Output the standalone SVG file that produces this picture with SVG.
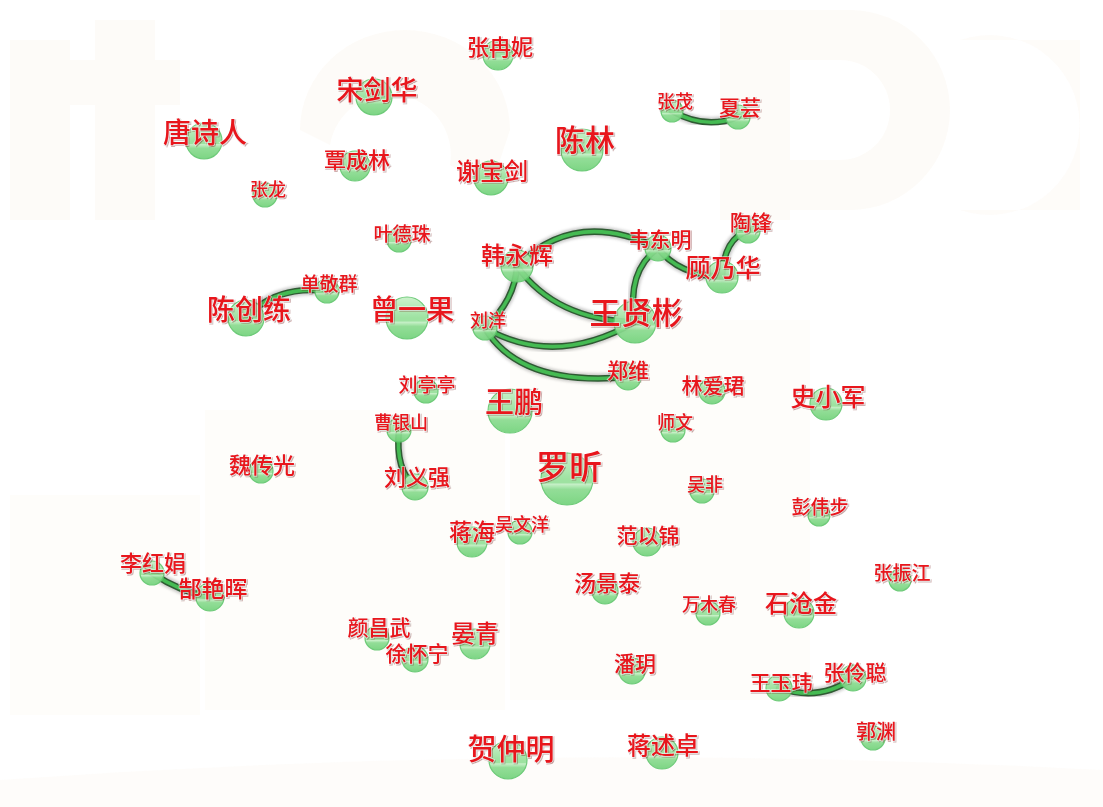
<svg xmlns="http://www.w3.org/2000/svg" width="1103" height="807" viewBox="0 0 1103 807">
<defs>
<linearGradient id="ball" x1="0" y1="0" x2="0" y2="1">
<stop offset="0" stop-color="#c9f1c9"/>
<stop offset="0.5" stop-color="#96e09a"/>
<stop offset="0.57" stop-color="#96e09a"/>
<stop offset="0.6" stop-color="#c2efc3"/>
<stop offset="0.7" stop-color="#8adb8f"/>
<stop offset="1" stop-color="#72d27a"/>
</linearGradient>
<filter id="ts" x="-10%" y="-20%" width="120%" height="140%">
<feDropShadow dx="1" dy="1" stdDeviation="0.7" flood-color="#600" flood-opacity="0.45"/>
</filter>
<filter id="es" x="-20%" y="-20%" width="140%" height="140%">
<feGaussianBlur stdDeviation="1.6"/>
</filter>
</defs>
<style>
.bg{fill:#fcf8f2}
.n circle{fill:url(#ball);stroke:#62c66e;stroke-width:1.2;opacity:0.92}
.n text{font-family:"Noto Sans CJK SC","Liberation Sans",sans-serif;font-weight:500;fill:#e8141c;text-anchor:middle;filter:url(#ts);stroke:#fff;stroke-width:1.5;stroke-opacity:0.6;paint-order:stroke}
.e path{fill:none;stroke-linecap:round}
.e .sh{stroke:#666;stroke-width:10;opacity:0.35;filter:url(#es)}
.e .bd{stroke:#2f5a33;stroke-width:6.5}
.e .in{stroke:#45bb53;stroke-width:3.6}
</style>
<rect width="1103" height="807" fill="#ffffff"/>
<g id="watermark" opacity="0.55">
<rect class="bg" x="10" y="40" width="60" height="180"/>
<rect class="bg" x="95" y="20" width="60" height="200"/>
<rect class="bg" x="70" y="60" width="110" height="45"/>
<path class="bg" d="M300,130 a105,100 0 1 1 210,0 l-20,60 l-40,-25 a55,55 0 1 0 -120,-20 z"/>
<rect class="bg" x="720" y="10" width="70" height="210"/>
<path class="bg" d="M790,10 h60 a100,100 0 0 1 0,200 h-60 v-50 h50 a50,50 0 0 0 0,-100 h-50 z"/>
<path class="bg" d="M960,40 a90,90 0 1 1 0,170 h120 v-170 z" opacity="0.8"/>
<rect class="bg" x="205" y="410" width="300" height="300" opacity="0.6"/>
<rect class="bg" x="510" y="320" width="300" height="380" opacity="0.6"/>
<rect class="bg" x="10" y="495" width="190" height="220" opacity="0.6"/>
<path class="bg" d="M0,780 Q550,740 1103,770 V807 H0 z" opacity="0.7"/>
</g>
<g id="edges" class="e">
<g><path class="sh" d="M672,111 Q705,130 738,117"/><path class="bd" d="M672,111 Q705,130 738,117"/><path class="in" d="M672,111 Q705,130 738,117"/></g>
<g><path class="sh" d="M517,266 Q575,208 658,248"/><path class="bd" d="M517,266 Q575,208 658,248"/><path class="in" d="M517,266 Q575,208 658,248"/></g>
<g><path class="sh" d="M517,266 Q515,300 485,328"/><path class="bd" d="M517,266 Q515,300 485,328"/><path class="in" d="M517,266 Q515,300 485,328"/></g>
<g><path class="sh" d="M517,266 Q555,320 635,322"/><path class="bd" d="M517,266 Q555,320 635,322"/><path class="in" d="M517,266 Q555,320 635,322"/></g>
<g><path class="sh" d="M485,328 Q555,368 635,322"/><path class="bd" d="M485,328 Q555,368 635,322"/><path class="in" d="M485,328 Q555,368 635,322"/></g>
<g><path class="sh" d="M485,328 Q520,387 628,377"/><path class="bd" d="M485,328 Q520,387 628,377"/><path class="in" d="M485,328 Q520,387 628,377"/></g>
<g><path class="sh" d="M658,248 Q626,272 635,322"/><path class="bd" d="M658,248 Q626,272 635,322"/><path class="in" d="M658,248 Q626,272 635,322"/></g>
<g><path class="sh" d="M658,248 Q678,275 722,277"/><path class="bd" d="M658,248 Q678,275 722,277"/><path class="in" d="M658,248 Q678,275 722,277"/></g>
<g><path class="sh" d="M722,277 Q724,238 748,231"/><path class="bd" d="M722,277 Q724,238 748,231"/><path class="in" d="M722,277 Q724,238 748,231"/></g>
<g><path class="sh" d="M246,318 Q275,285 327,291"/><path class="bd" d="M246,318 Q275,285 327,291"/><path class="in" d="M246,318 Q275,285 327,291"/></g>
<g><path class="sh" d="M399,430 Q395,470 415,487"/><path class="bd" d="M399,430 Q395,470 415,487"/><path class="in" d="M399,430 Q395,470 415,487"/></g>
<g><path class="sh" d="M152,573 Q180,592 210,597"/><path class="bd" d="M152,573 Q180,592 210,597"/><path class="in" d="M152,573 Q180,592 210,597"/></g>
<g><path class="sh" d="M779,688 Q820,702 853,678"/><path class="bd" d="M779,688 Q820,702 853,678"/><path class="in" d="M779,688 Q820,702 853,678"/></g>
</g>
<g id="n-zrn" class="n"><circle cx="498" cy="55" r="15"/><text x="500" y="55" font-size="22">张冉妮</text></g>
<g id="n-sjh" class="n"><circle cx="374" cy="97" r="18"/><text x="377" y="100" font-size="27">宋剑华</text></g>
<g id="n-tsr" class="n"><circle cx="204" cy="141" r="18"/><text x="205" y="143" font-size="28">唐诗人</text></g>
<g id="n-tcl" class="n"><circle cx="355" cy="166" r="15"/><text x="357" y="168" font-size="22">覃成林</text></g>
<g id="n-zl" class="n"><circle cx="265" cy="195" r="12"/><text x="268" y="196" font-size="18">张龙</text></g>
<g id="n-xbj" class="n"><circle cx="491" cy="178" r="17"/><text x="492" y="180" font-size="24">谢宝剑</text></g>
<g id="n-cl" class="n"><circle cx="582" cy="150" r="21"/><text x="585" y="151" font-size="30">陈林</text></g>
<g id="n-zm" class="n"><circle cx="672" cy="111" r="11"/><text x="675" y="108" font-size="18">张茂</text></g>
<g id="n-xy" class="n"><circle cx="738" cy="117" r="12"/><text x="740" y="115" font-size="21">夏芸</text></g>
<g id="n-ydz" class="n"><circle cx="399" cy="240" r="12"/><text x="402" y="241" font-size="19">叶德珠</text></g>
<g id="n-hyh" class="n"><circle cx="517" cy="266" r="16"/><text x="517" y="264" font-size="24">韩永辉</text></g>
<g id="n-wdm" class="n"><circle cx="658" cy="248" r="13"/><text x="660" y="247" font-size="21">韦东明</text></g>
<g id="n-tf" class="n"><circle cx="748" cy="231" r="12"/><text x="751" y="230" font-size="21">陶锋</text></g>
<g id="n-gnh" class="n"><circle cx="722" cy="277" r="16"/><text x="723" y="277" font-size="25">顾乃华</text></g>
<g id="n-sjq" class="n"><circle cx="327" cy="291" r="12"/><text x="329" y="291" font-size="19">单敬群</text></g>
<g id="n-ccl" class="n"><circle cx="246" cy="318" r="18"/><text x="249" y="320" font-size="28">陈创练</text></g>
<g id="n-zyg" class="n"><circle cx="407" cy="318" r="21"/><text x="412" y="320" font-size="28">曾一果</text></g>
<g id="n-ly" class="n"><circle cx="485" cy="328" r="12"/><text x="488" y="327" font-size="18">刘洋</text></g>
<g id="n-wxb" class="n"><circle cx="635" cy="322" r="21"/><text x="636" y="324" font-size="31">王贤彬</text></g>
<g id="n-zw" class="n"><circle cx="628" cy="377" r="13"/><text x="628" y="378" font-size="21">郑维</text></g>
<g id="n-ltt" class="n"><circle cx="426" cy="391" r="12"/><text x="427" y="392" font-size="19">刘亭亭</text></g>
<g id="n-laj" class="n"><circle cx="712" cy="391" r="13"/><text x="713" y="393" font-size="21">林爱珺</text></g>
<g id="n-sxj" class="n"><circle cx="826" cy="404" r="16"/><text x="828" y="406" font-size="25">史小军</text></g>
<g id="n-wp" class="n"><circle cx="510" cy="411" r="22"/><text x="514" y="413" font-size="29">王鹏</text></g>
<g id="n-cys" class="n"><circle cx="399" cy="430" r="12"/><text x="401" y="429" font-size="18">曹银山</text></g>
<g id="n-sw" class="n"><circle cx="673" cy="430" r="12"/><text x="675" y="429" font-size="18">师文</text></g>
<g id="n-wcg" class="n"><circle cx="261" cy="471" r="12"/><text x="262" y="473" font-size="22">魏传光</text></g>
<g id="n-lx" class="n"><circle cx="567" cy="479" r="26"/><text x="569" y="479" font-size="33">罗昕</text></g>
<g id="n-lyq" class="n"><circle cx="415" cy="487" r="13"/><text x="417" y="485" font-size="22">刘义强</text></g>
<g id="n-wf" class="n"><circle cx="702" cy="491" r="12"/><text x="705" y="491" font-size="18">吴非</text></g>
<g id="n-pwb" class="n"><circle cx="819" cy="515" r="11"/><text x="820" y="514" font-size="19">彭伟步</text></g>
<g id="n-wwy" class="n"><circle cx="520" cy="532" r="12"/><text x="522" y="531" font-size="18">吴文洋</text></g>
<g id="n-jh" class="n"><circle cx="472" cy="542" r="15"/><text x="472" y="540" font-size="23">蒋海</text></g>
<g id="n-fyj" class="n"><circle cx="647" cy="542" r="14"/><text x="648" y="543" font-size="21">范以锦</text></g>
<g id="n-lhj" class="n"><circle cx="152" cy="573" r="12"/><text x="153" y="571" font-size="22">李红娟</text></g>
<g id="n-gyh" class="n"><circle cx="210" cy="597" r="14"/><text x="213" y="597" font-size="23">郜艳晖</text></g>
<g id="n-tjt" class="n"><circle cx="605" cy="591" r="13"/><text x="607" y="591" font-size="22">汤景泰</text></g>
<g id="n-zzj" class="n"><circle cx="900" cy="580" r="11"/><text x="902" y="580" font-size="19">张振江</text></g>
<g id="n-wmc" class="n"><circle cx="708" cy="613" r="12"/><text x="709" y="611" font-size="18">万木春</text></g>
<g id="n-scj" class="n"><circle cx="799" cy="613" r="15"/><text x="801" y="612" font-size="24">石沧金</text></g>
<g id="n-ycw" class="n"><circle cx="377" cy="638" r="12"/><text x="379" y="635" font-size="21">颜昌武</text></g>
<g id="n-xhn" class="n"><circle cx="415" cy="659" r="13"/><text x="417" y="661" font-size="21">徐怀宁</text></g>
<g id="n-yq" class="n"><circle cx="475" cy="644" r="15"/><text x="475" y="642" font-size="24">晏青</text></g>
<g id="n-py" class="n"><circle cx="632" cy="671" r="13"/><text x="635" y="671" font-size="21">潘玥</text></g>
<g id="n-wyw" class="n"><circle cx="779" cy="688" r="13"/><text x="781" y="690" font-size="21">王玉玮</text></g>
<g id="n-zlc" class="n"><circle cx="853" cy="678" r="13"/><text x="855" y="680" font-size="21">张伶聪</text></g>
<g id="n-gy" class="n"><circle cx="873" cy="738" r="12"/><text x="876" y="739" font-size="20">郭渊</text></g>
<g id="n-hzm" class="n"><circle cx="508" cy="760" r="19"/><text x="511" y="760" font-size="29">贺仲明</text></g>
<g id="n-jsz" class="n"><circle cx="662" cy="753" r="16"/><text x="663" y="754" font-size="24">蒋述卓</text></g>
</svg>
